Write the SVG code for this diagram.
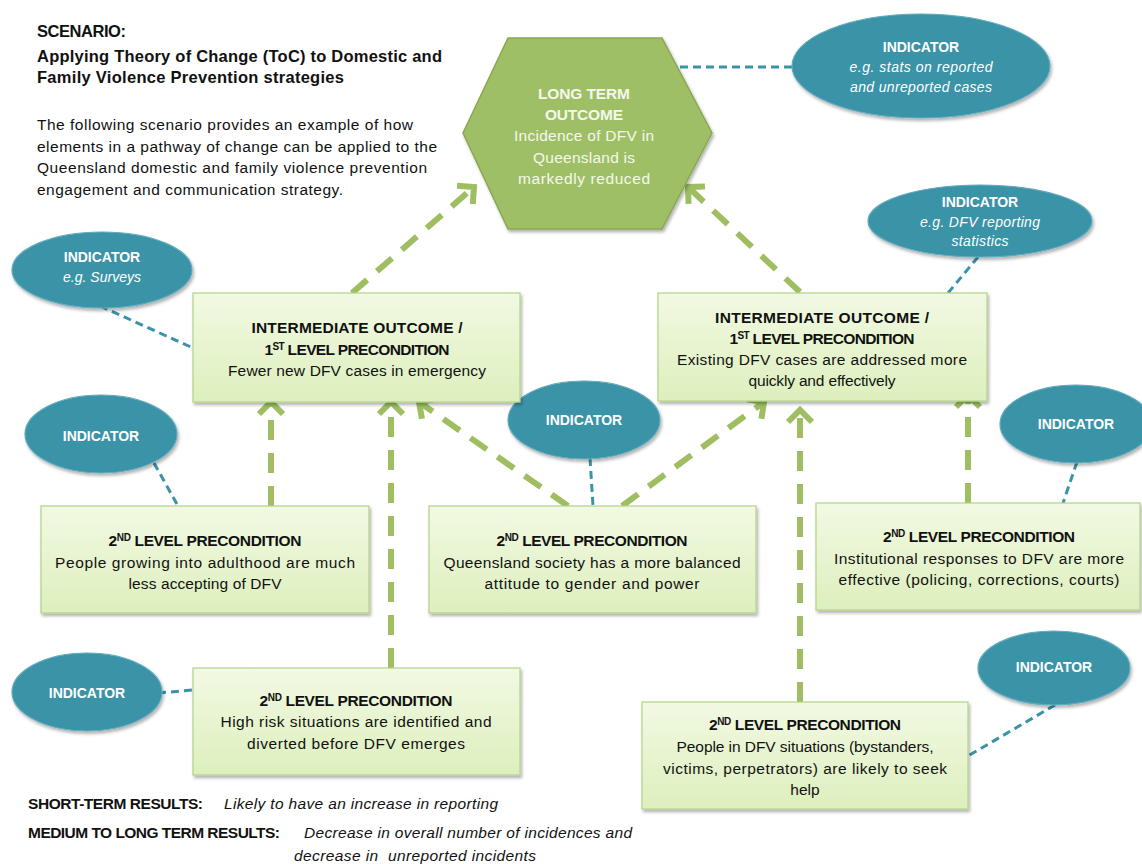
<svg xmlns="http://www.w3.org/2000/svg" width="1142" height="864" viewBox="0 0 1142 864">
<defs>
<linearGradient id="boxg" x1="0" y1="0" x2="0" y2="1">
<stop offset="0" stop-color="#f2f9e3"/>
<stop offset="1" stop-color="#ddefbd"/>
</linearGradient>
<filter id="sh" x="-10%" y="-10%" width="125%" height="130%">
<feDropShadow dx="1.5" dy="2.5" stdDeviation="1.5" flood-color="#000" flood-opacity="0.3"/>
</filter>
<marker id="ah" markerUnits="userSpaceOnUse" viewBox="-22 -16 28 32" refX="0" refY="0" markerWidth="28" markerHeight="32" orient="auto">
<path d="M-12,-12 L0,0 L-12,12" fill="none" stroke="#9ebe61" stroke-width="6"/>
</marker>
<style>
.box{fill:url(#boxg);stroke:#b2d387;stroke-width:1.2;filter:url(#sh)}
.ind{fill:#3a93a8;stroke:#62abbd;stroke-width:1.2;filter:url(#sh)}
.t{font-family:"Liberation Sans",Arial,sans-serif;font-size:15.5px;fill:#111;text-anchor:middle}
.b{font-weight:bold}
.w{font-family:"Liberation Sans",Arial,sans-serif;font-size:14px;fill:#fff;text-anchor:middle}
.wi{font-style:italic;font-weight:normal}
.hx{font-family:"Liberation Sans",Arial,sans-serif;font-size:15.5px;fill:#f4f8ec;text-anchor:middle}
.hd{font-family:"Liberation Sans",Arial,sans-serif;font-size:15.5px;fill:#111}
.hb{font-size:16.5px;font-weight:bold}
.g{fill:none;stroke:#9ebe61;stroke-width:6;stroke-dasharray:20 13;marker-end:url(#ah)}
.tl{fill:none;stroke:#3a93a8;stroke-width:3;stroke-dasharray:8 5}
</style>
</defs>
<rect width="1142" height="864" fill="#fff"/>

<g id="header">
<text class="hd hb" x="37" y="37" textLength="89">SCENARIO:</text>
<text class="hd hb" x="37" y="62" textLength="405">Applying Theory of Change (ToC) to Domestic and</text>
<text class="hd hb" x="37" y="83" textLength="307">Family Violence Prevention strategies</text>
<text class="hd" x="37" y="130" textLength="376">The following scenario provides an example of how</text>
<text class="hd" x="37" y="152" textLength="400">elements in a pathway of change can be applied to the</text>
<text class="hd" x="37" y="173" textLength="390">Queensland domestic and family violence prevention</text>
<text class="hd" x="37" y="195" textLength="306">engagement and communication strategy.</text>
</g>

<g id="connectors">
<path class="g" d="M352,293 L474,187"/>
<path class="g" d="M800,292 L688,187"/>
<path class="g" d="M271,506 L271,402"/>
<path class="g" d="M391,668 L391,402"/>
<path class="g" d="M568,506 L419,402"/>
<path class="g" d="M622,506 L764,402"/>
<path class="g" d="M800,702 L800,410"/>
<path class="g" d="M968,503 L968,395"/>
<path class="tl" d="M792,67 L668,67"/>
<path class="tl" d="M948,293 L978,257"/>
<path class="tl" d="M100,306 L193,348"/>
<path class="tl" d="M154,463 L178,506"/>
<path class="tl" d="M590,458 L593,506"/>
<path class="tl" d="M1077,462 L1063,503"/>
<path class="tl" d="M158,693 L193,690"/>
<path class="tl" d="M1055,705 L968,756"/>
</g>

<g id="long-term-outcome">
<polygon points="508,38 662,38 712,133 662,229 508,229 463,133" fill="#9fbf66" stroke="#88a852" stroke-width="1.5" filter="url(#sh)"/>
<text class="hx b" x="584" y="99" textLength="92">LONG TERM</text>
<text class="hx b" x="584" y="120" textLength="78">OUTCOME</text>
<text class="hx" x="584" y="141" textLength="140">Incidence of DFV in</text>
<text class="hx" x="584" y="163" textLength="102">Queensland is</text>
<text class="hx" x="584" y="184" textLength="132">markedly reduced</text>
</g>

<g id="indicator-stats">
<ellipse class="ind" cx="921" cy="66" rx="129" ry="52"/>
<text class="w b" x="921" y="52">INDICATOR</text>
<text class="w wi" x="921" y="72" textLength="143">e.g. stats on reported</text>
<text class="w wi" x="921" y="92" textLength="142">and unreported cases</text>
</g>

<g id="indicator-reporting">
<ellipse class="ind" cx="980" cy="221" rx="112" ry="36"/>
<text class="w b" x="980" y="207">INDICATOR</text>
<text class="w wi" x="980" y="227" textLength="120">e.g. DFV reporting</text>
<text class="w wi" x="980" y="246" textLength="57">statistics</text>
</g>

<g id="indicator-surveys">
<ellipse class="ind" cx="102" cy="270" rx="90" ry="38"/>
<text class="w b" x="102" y="262">INDICATOR</text>
<text class="w wi" x="102" y="282" textLength="78">e.g. Surveys</text>
</g>

<g id="indicator-left">
<ellipse class="ind" cx="101" cy="434" rx="76" ry="39"/>
<text class="w b" x="101" y="441">INDICATOR</text>
</g>

<g id="indicator-middle">
<ellipse class="ind" cx="584" cy="420" rx="76" ry="39"/>
<text class="w b" x="584" y="425">INDICATOR</text>
</g>

<g id="indicator-right">
<ellipse class="ind" cx="1076" cy="424" rx="76" ry="39"/>
<text class="w b" x="1076" y="429">INDICATOR</text>
</g>

<g id="indicator-bottom-left">
<ellipse class="ind" cx="87" cy="692" rx="75" ry="39"/>
<text class="w b" x="87" y="698">INDICATOR</text>
</g>

<g id="indicator-bottom-right">
<ellipse class="ind" cx="1054" cy="668" rx="76" ry="37"/>
<text class="w b" x="1054" y="672">INDICATOR</text>
</g>

<g id="intermediate-left">
<rect class="box" x="193" y="293" width="327" height="109"/>
<text class="t b" x="357" y="333" textLength="211">INTERMEDIATE OUTCOME /</text>
<text class="t b" x="357" y="355" textLength="185">1<tspan font-size="10" dy="-5">ST</tspan><tspan dy="5"> LEVEL PRECONDITION</tspan></text>
<text class="t" x="357" y="376" textLength="258">Fewer new DFV cases in emergency</text>
</g>

<g id="intermediate-right">
<rect class="box" x="658" y="293" width="329" height="108"/>
<text class="t b" x="822" y="323" textLength="214">INTERMEDIATE OUTCOME /</text>
<text class="t b" x="822" y="344" textLength="185">1<tspan font-size="10" dy="-5">ST</tspan><tspan dy="5"> LEVEL PRECONDITION</tspan></text>
<text class="t" x="822" y="365" textLength="290">Existing DFV cases are addressed more</text>
<text class="t" x="822" y="386" textLength="147">quickly and effectively</text>
</g>

<g id="precondition-adulthood">
<rect class="box" x="41" y="506" width="328" height="107"/>
<text class="t b" x="205" y="546" textLength="193">2<tspan font-size="10" dy="-5">ND</tspan><tspan dy="5"> LEVEL PRECONDITION</tspan></text>
<text class="t" x="205" y="568" textLength="300">People growing into adulthood are much</text>
<text class="t" x="205" y="589" textLength="153">less accepting of DFV</text>
</g>

<g id="precondition-society">
<rect class="box" x="429" y="506" width="327" height="107"/>
<text class="t b" x="592" y="546" textLength="191">2<tspan font-size="10" dy="-5">ND</tspan><tspan dy="5"> LEVEL PRECONDITION</tspan></text>
<text class="t" x="592" y="568" textLength="297">Queensland society has a more balanced</text>
<text class="t" x="592" y="589" textLength="215">attitude to gender and power</text>
</g>

<g id="precondition-institutional">
<rect class="box" x="816" y="503" width="324" height="107"/>
<text class="t b" x="979" y="542" textLength="192">2<tspan font-size="10" dy="-5">ND</tspan><tspan dy="5"> LEVEL PRECONDITION</tspan></text>
<text class="t" x="979" y="564" textLength="290">Institutional responses to DFV are more</text>
<text class="t" x="979" y="585" textLength="281">effective (policing, corrections, courts)</text>
</g>

<g id="precondition-high-risk">
<rect class="box" x="193" y="668" width="327" height="107"/>
<text class="t b" x="356" y="706" textLength="193">2<tspan font-size="10" dy="-5">ND</tspan><tspan dy="5"> LEVEL PRECONDITION</tspan></text>
<text class="t" x="356" y="727" textLength="271">High risk situations are identified and</text>
<text class="t" x="356" y="749" textLength="218">diverted before DFV emerges</text>
</g>

<g id="precondition-seek-help">
<rect class="box" x="642" y="702" width="326" height="107"/>
<text class="t b" x="805" y="730" textLength="192">2<tspan font-size="10" dy="-5">ND</tspan><tspan dy="5"> LEVEL PRECONDITION</tspan></text>
<text class="t" x="805" y="752" textLength="257">People in DFV situations (bystanders,</text>
<text class="t" x="805" y="774" textLength="284">victims, perpetrators) are likely to seek</text>
<text class="t" x="805" y="795">help</text>
</g>

<g id="results">
<text class="hd b" x="28" y="809" font-size="14.5" textLength="175">SHORT-TERM RESULTS:</text>
<text class="hd" x="224" y="809" font-size="14.5" font-style="italic" textLength="274">Likely to have an increase in reporting</text>
<text class="hd b" x="28" y="838" font-size="14.5" textLength="252">MEDIUM TO LONG TERM RESULTS:</text>
<text class="hd" x="304" y="838" font-size="14.5" font-style="italic" textLength="328">Decrease in overall number of incidences and</text>
<text class="hd" x="294" y="861" font-size="14.5" font-style="italic" textLength="242" style="white-space:pre">decrease in  unreported incidents</text>
</g>
</svg>
